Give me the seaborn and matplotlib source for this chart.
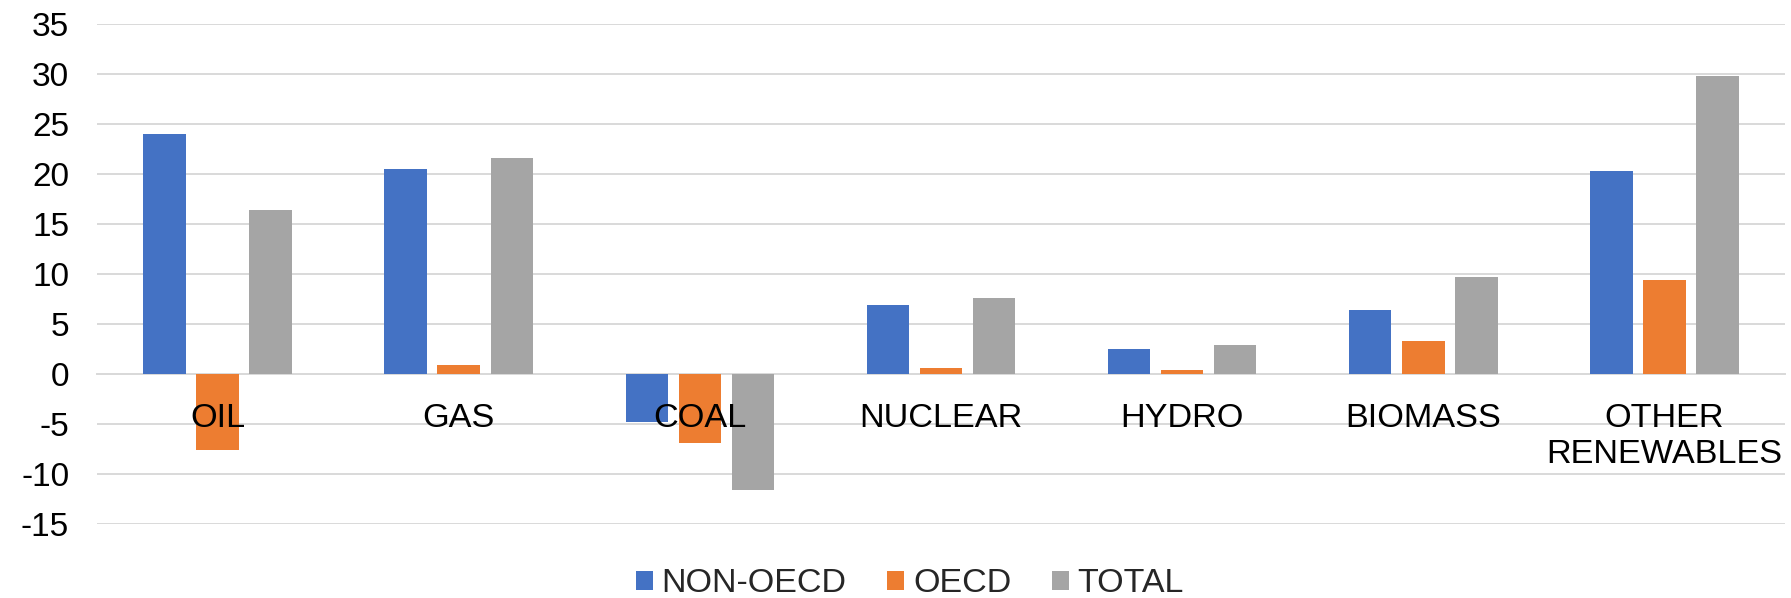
import matplotlib
matplotlib.use("Agg")
import matplotlib.pyplot as plt
import seaborn as sns
import pandas as pd

categories = ["OIL", "GAS", "COAL", "NUCLEAR", "HYDRO", "BIOMASS", "OTHER\nRENEWABLES"]
series = ["NON-OECD", "OECD", "TOTAL"]
non_oecd = [24.0, 20.5, -4.8, 6.9, 2.5, 6.4, 20.3]
oecd = [-7.6, 0.95, -6.9, 0.65, 0.45, 3.3, 9.4]
total = [16.4, 21.6, -11.6, 7.6, 2.95, 9.7, 29.8]
yticks = [-15, -10, -5, 0, 5, 10, 15, 20, 25, 30, 35]
colors = ["#4472C4", "#ED7D31", "#A5A5A5"]

rows = []
for name, vals in zip(series, [non_oecd, oecd, total]):
    for c, v in zip(categories, vals):
        rows.append({"cat": c, "series": name, "value": v})
df = pd.DataFrame(rows)

sns.set_theme(style="white")
plt.rcParams["font.family"] = ["Liberation Sans", "DejaVu Sans"]
plt.rcParams["axes.unicode_minus"] = False

fig = plt.figure(figsize=(17.91, 5.98), dpi=100)
ax = fig.add_axes([97 / 1791, 1 - 524.3 / 598, (1785 - 97) / 1791, 500 / 598])

sns.barplot(data=df, x="cat", y="value", hue="series", order=categories,
            hue_order=series, palette=colors, saturation=1, width=0.66, gap=0.2,
            ax=ax, errorbar=None, linewidth=0)

ax.set_ylim(-15, 35)
ax.set_yticks(yticks)
ax.set_yticklabels([str(t) for t in yticks])
ax.set_xlim(-0.5, len(categories) - 0.5)
ax.set_xlabel("")
ax.set_ylabel("")

ax.set_axisbelow(True)
ax.xaxis.set_zorder(3)
ax.yaxis.grid(True, color="#D9D9D9", linewidth=1.4)
ax.xaxis.grid(False)
for s in ["top", "right", "left"]:
    ax.spines[s].set_visible(False)
ax.spines["bottom"].set_position(("data", 0))
ax.spines["bottom"].set_color("#D9D9D9")
ax.spines["bottom"].set_linewidth(1.4)
ax.spines["bottom"].set_zorder(0.5)

ax.tick_params(axis="y", length=0, pad=20, labelsize=24, labelcolor="black")
ax.tick_params(axis="x", length=0, pad=21, labelsize=24.7, labelcolor="black")

handles, labels = ax.get_legend_handles_labels()
ax.get_legend().remove()
fig.legend(handles, labels, loc="center", bbox_to_anchor=(910 / 1791, 1 - 584 / 598),
           ncol=3, frameon=False, fontsize=24.5, handlelength=0.5, handleheight=0.5,
           handletextpad=0.25, columnspacing=1.2)

fig.savefig("out.png", dpi=100, facecolor="white")
